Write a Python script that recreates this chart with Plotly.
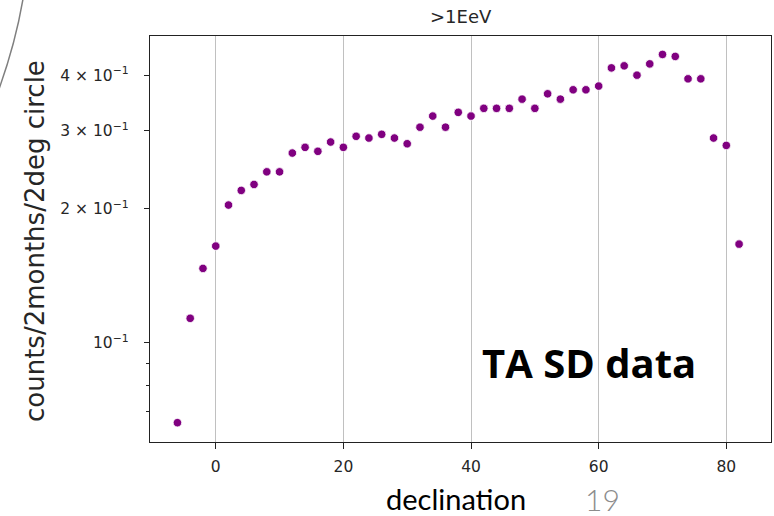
import numpy as np
import plotly.graph_objects as go

# Declination bins (deg) and rate per 2 months per 2-degree circle
declination = [-6, -4, -2, 0, 2, 4, 6, 8, 10, 12, 14, 16, 18, 20, 22, 24, 26, 28,
               30, 32, 34, 36, 38, 40, 42, 44, 46, 48, 50, 52, 54, 56, 58, 60,
               62, 64, 66, 68, 70, 72, 74, 76, 78, 80, 82]
counts = [0.0661, 0.1135, 0.1470, 0.1650, 0.2041, 0.2202, 0.2271, 0.2424, 0.2424,
          0.2672, 0.2752, 0.2696, 0.2829, 0.2752, 0.2914, 0.2888, 0.2944, 0.2888,
          0.2804, 0.3055, 0.3236, 0.3055, 0.3299, 0.3236, 0.3368, 0.3368, 0.3368,
          0.3533, 0.3368, 0.3632, 0.3533, 0.3708, 0.3708, 0.3780, 0.4154, 0.4198,
          0.4000, 0.4241, 0.4454, 0.4408, 0.3925, 0.3925, 0.2888, 0.2780, 0.1667]

x_ticks = [0, 20, 40, 60, 80]
y_ticks = [0.1, 0.2, 0.3, 0.4]
y_ticktext = ["10<sup>\u22121</sup>", "2 \u00d7 10<sup>\u22121</sup>",
              "3 \u00d7 10<sup>\u22121</sup>", "4 \u00d7 10<sup>\u22121</sup>"]
y_minor = [0.07, 0.08, 0.09]

W, H = 774, 516
ML, MR, MT, MB = 150, 3, 36, 74
PW, PH = W - ML - MR, H - MT - MB


def px_x(px):
    return (px - ML) / PW


def px_y(py):
    return (H - MB - py) / PH


tick_font = dict(family="DejaVu Sans", size=15.5, color="#262626")

fig = go.Figure()
fig.add_trace(go.Scatter(
    x=declination, y=counts, mode="markers",
    marker=dict(color="#800080", size=8.5, line=dict(color="white", width=0.8)),
    showlegend=False, cliponaxis=False,
))

# horizontal grid line at the single major decade
fig.add_shape(type="line", xref="paper", x0=0, x1=1, yref="y",
              y0=np.log10(0.1), y1=np.log10(0.1),
              line=dict(color="#c0c0c0", width=1.4), layer="below")

# slide decoration arc in the top-left corner
x0, y0 = px_x(23), px_y(-1)
cx, cy = px_x(15.5), px_y(43)
x1, y1 = px_x(-1), px_y(89)
fig.add_shape(type="path", xref="paper", yref="paper",
              path=f"M {x0},{y0} Q {cx},{cy} {x1},{y1}",
              line=dict(color="#7f7f7f", width=1.5))

fig.update_xaxes(
    range=[-10.3, 87.0], tickmode="array", tickvals=x_ticks,
    showgrid=True, gridcolor="#c0c0c0", gridwidth=1.4,
    showline=True, linecolor="#222222", linewidth=1.4, mirror=True,
    ticks="outside", ticklen=6, tickwidth=1.2, tickcolor="#222222",
    tickfont=tick_font, zeroline=False, ticklabelstandoff=4,
)
fig.update_yaxes(
    type="log", range=[np.log10(0.0598), np.log10(0.490)],
    tickmode="array", tickvals=y_ticks, ticktext=y_ticktext,
    showgrid=False,
    showline=True, linecolor="#222222", linewidth=1.4, mirror=True,
    ticks="outside", ticklen=5, tickwidth=1.2, tickcolor="#222222",
    tickfont=tick_font, zeroline=False, ticklabelstandoff=12,
    minor=dict(tickmode="array", tickvals=y_minor, ticks="outside",
               ticklen=3, tickwidth=1, tickcolor="#222222", showgrid=False),
)

annotations = [
    dict(text=">1EeV", x=0.5, y=px_y(17), xref="paper", yref="paper",
         showarrow=False, xanchor="center", yanchor="middle",
         font=dict(family="DejaVu Sans", size=18, color="#262626")),
    dict(text="counts/2months/2deg circle", x=px_x(35), y=px_y(241),
         xref="paper", yref="paper", showarrow=False, textangle=-90,
         xanchor="center", yanchor="middle",
         font=dict(family="DejaVu Sans", size=26, color="#262626")),
    dict(text="<b>TA SD data</b>", x=px_x(589), y=px_y(362),
         xref="paper", yref="paper", showarrow=False,
         xanchor="center", yanchor="middle",
         font=dict(family="Open Sans", size=40, color="black")),
    dict(text="declination", x=px_x(456), y=px_y(498),
         xref="paper", yref="paper", showarrow=False,
         xanchor="center", yanchor="middle",
         font=dict(family="Lato", size=29, color="black")),
    dict(text="19", x=px_x(602), y=px_y(499),
         xref="paper", yref="paper", showarrow=False,
         xanchor="center", yanchor="middle",
         font=dict(family="Lato", size=30, color="#8c8c8c", weight=300)),
]

fig.update_layout(
    width=W, height=H,
    margin=dict(l=ML, r=MR, t=MT, b=MB),
    paper_bgcolor="white", plot_bgcolor="white",
    annotations=annotations,
)

fig.write_html("out.html")
